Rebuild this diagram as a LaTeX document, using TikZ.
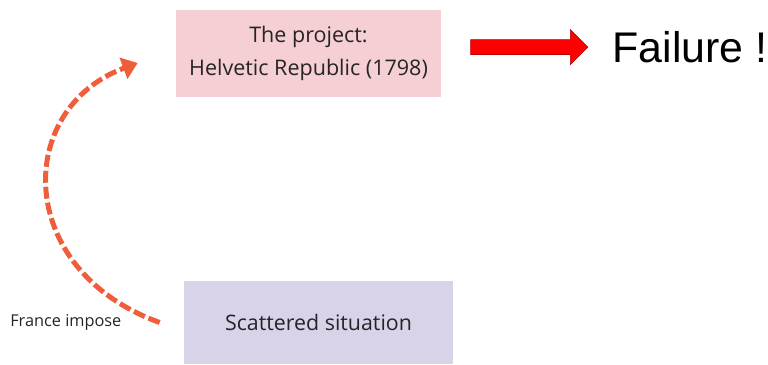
\documentclass[tikz,border=0pt]{standalone}
\usepackage{fontspec}
\setmainfont{Open Sans}
\newfontfamily\failfont{Liberation Sans}
\usetikzlibrary{arrows.meta, positioning, shapes.arrows}
\definecolor{projectpink}{RGB}{246,207,212}
\definecolor{situationlilac}{RGB}{217,211,234}
\definecolor{imposeorange}{RGB}{239,94,58}
\definecolor{textgrey}{RGB}{38,36,38}
\newcommand{\px}{0.025cm}
\tikzstyle{project} = [% top box
  rectangle,
  minimum width=6.625cm,
  minimum height=2.175cm,
  text centered,
  align=center,
  text=textgrey,
  fill=projectpink,
  font=\fontsize{15.3}{24}\selectfont
  ]
\tikzstyle{situation} = [% bottom box
  rectangle,
  minimum width=6.725cm,
  minimum height=2.075cm,
  text centered,
  text=textgrey,
  fill=situationlilac,
  font=\fontsize{15.2}{17}\selectfont
  ]
\tikzstyle{blockarrow} = [% red block arrow
  single arrow,
  minimum height=2.925cm,
  inner sep=0.175cm,
  single arrow head extend=0.25cm,
  fill=red,
  draw=red!75!black,
  line width=0.5pt
  ]
\tikzstyle{note} = [% small label
  inner sep=0pt,
  text=textgrey,
  font=\fontsize{11.6}{14}\selectfont
  ]
\tikzstyle{impose} = [% dashed curved arrow
  imposeorange,
  line width=0.125cm,
  dash pattern=on 0.3cm off 0.1cm,
  -{Triangle[width=0.55cm,length=0.38cm]}
  ]

\begin{document}
\begin{tikzpicture}[x=\px, y=-\px]
\useasboundingbox (0,0) rectangle (768,365);

%%% Nodes
\node[project] (project) at (308.5,53.5) {The project:\\Helvetic Republic (1798)};
\node[blockarrow] (failarrow) [right=0.725cm of project, yshift=0.16cm] {};
\node[inner sep=0pt, anchor=west, font=\failfont\fontsize{30.5}{36}\selectfont]
  (failure) [right=0.6cm of failarrow] {Failure !};
\node[situation] (situation) at (318.5,322.5) {Scattered situation};
\node[note] (france) [left=1.55cm of situation] {France impose};

%%% Connector
\coordinate (imposestart) at ([xshift=-0.6cm]situation.west);
\coordinate (imposeend) at ([shift={(-38,9.5)}]project.west);
\draw[impose] (imposestart) .. controls (14,270) and (14,109) .. (imposeend);

\end{tikzpicture}
\end{document}
